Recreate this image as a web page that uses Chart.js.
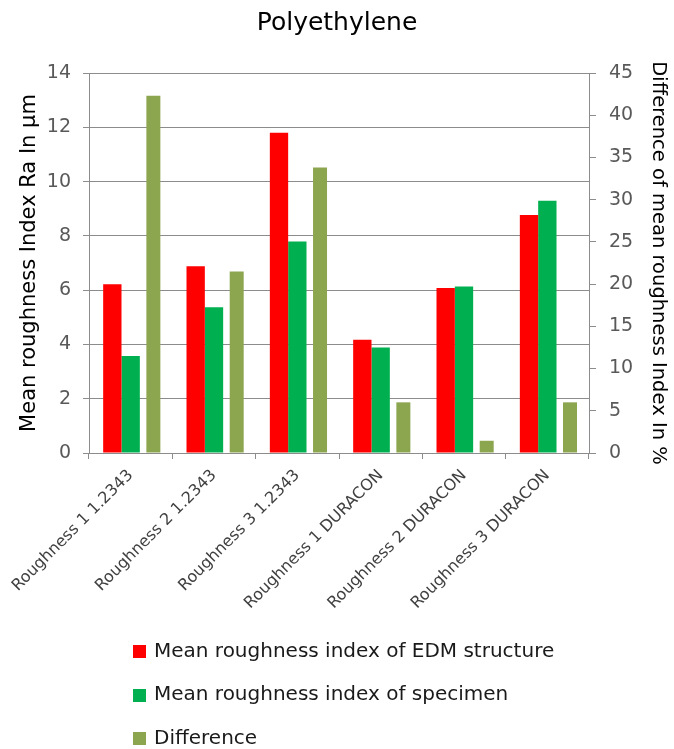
<!DOCTYPE html>
<html>
<head>
<meta charset="utf-8">
<title>Polyethylene</title>
<script src="https://cdn.jsdelivr.net/npm/chart.js@4/dist/chart.umd.min.js"></script>
<style>
  html, body { margin: 0; padding: 0; background: #ffffff; }
  #chart { display: block; }
</style>
</head>
<body>
<canvas id="chart" width="674" height="749"></canvas>
<script>
// Categories (surface roughness of the mould insert)
const categories = [
  'Roughness 1 1.2343',
  'Roughness 2 1.2343',
  'Roughness 3 1.2343',
  'Roughness 1 DURACON',
  'Roughness 2 DURACON',
  'Roughness 3 DURACON'
];

// Mean roughness Ra in µm (left axis)
const edmStructure = [6.22, 6.88, 11.80, 4.17, 6.08, 8.77];
const specimen     = [3.57, 5.37, 7.79, 3.89, 6.13, 9.29];

// Difference in % (right axis)
const difference   = [42.3, 21.5, 33.8, 6.0, 1.45, 6.0];

// Axis ranges
const leftTicks  = { min: 0, max: 14, step: 2 };
const rightTicks = { min: 0, max: 45, step: 5 };

const seriesNames = [
  'Mean roughness index of EDM structure',
  'Mean roughness index of specimen',
  'Difference'
];

const FONT = 'DejaVu Sans';
const GRID = '#8c8c8c';

Chart.defaults.font.family = FONT;

// Vertical legend below the axis labels
const columnLegend = {
  id: 'columnLegend',
  afterDraw(chart, args, opts) {
    const ctx = chart.ctx;
    ctx.save();
    ctx.font = opts.size + 'px "' + FONT + '"';
    ctx.textBaseline = 'middle';
    ctx.textAlign = 'left';
    chart.data.datasets.forEach((ds, i) => {
      const y = opts.top + i * opts.rowGap;
      ctx.fillStyle = ds.backgroundColor;
      ctx.fillRect(opts.left, Math.round(y - opts.box / 2), opts.box, opts.box);
      ctx.fillStyle = opts.color;
      ctx.fillText(ds.label, opts.left + opts.box + opts.gap, y);
    });
    ctx.restore();
  }
};

new Chart(document.getElementById('chart'), {
  type: 'bar',
  data: {
    labels: categories,
    datasets: [
      {
        label: seriesNames[0],
        data: edmStructure,
        backgroundColor: '#ff0000',
        yAxisID: 'y',
        categoryPercentage: 0.66,
        barPercentage: 1.0
      },
      {
        label: seriesNames[1],
        data: specimen,
        backgroundColor: '#00b050',
        yAxisID: 'y',
        categoryPercentage: 0.66,
        barPercentage: 1.0
      },
      {
        label: seriesNames[2],
        data: difference,
        backgroundColor: '#8ca650',
        yAxisID: 'y1',
        categoryPercentage: 0.817,
        barPercentage: 0.617
      }
    ]
  },
  options: {
    responsive: false,
    animation: false,
    devicePixelRatio: 1,
    layout: { padding: { left: 0, right: 0, top: 0, bottom: 106 } },
    plugins: {
      legend: { display: false },
      tooltip: { enabled: false },
      title: {
        display: true,
        text: 'Polyethylene',
        color: '#000000',
        font: { size: 25, weight: 'normal' },
        padding: { top: 8, bottom: 35 }
      },
      columnLegend: {
        left: 133, top: 651.5, rowGap: 43.5, box: 13, gap: 8,
        size: 20, color: '#1a1a1a'
      }
    },
    scales: {
      x: {
        type: 'category',
        afterFit(scale) {
          // long rotated labels may run past the plot edges
          scale.height = 190;
          scale.paddingLeft = 0;
          scale.paddingRight = 0;
        },
        grid: {
          display: true,
          drawOnChartArea: false,
          drawTicks: true,
          tickLength: 6,
          color: GRID,
          offset: true
        },
        border: { display: true, color: GRID, width: 1 },
        ticks: {
          minRotation: 45,
          maxRotation: 45,
          autoSkip: false,
          padding: 7,
          color: '#404040',
          font: { size: 16 }
        }
      },
      y: {
        position: 'left',
        min: leftTicks.min,
        max: leftTicks.max,
        afterFit(scale) { scale.width = 89; },
        ticks: {
          stepSize: leftTicks.step,
          padding: 12,
          color: '#595959',
          font: { size: 19 }
        },
        grid: {
          color: GRID,
          lineWidth: 1,
          drawTicks: true,
          tickLength: 6
        },
        border: { display: true, color: GRID, width: 1 },
        title: {
          display: true,
          text: 'Mean roughness Index Ra In µm',
          color: '#000000',
          font: { size: 21 },
          padding: { top: 17, bottom: 0 }
        }
      },
      y1: {
        position: 'right',
        min: rightTicks.min,
        max: rightTicks.max,
        afterFit(scale) { scale.width = 85; },
        ticks: {
          stepSize: rightTicks.step,
          padding: 13,
          color: '#595959',
          font: { size: 19 }
        },
        grid: {
          drawOnChartArea: false,
          color: GRID,
          drawTicks: true,
          tickLength: 7
        },
        border: { display: true, color: GRID, width: 1 },
        title: {
          display: true,
          text: 'Difference of mean roughness Index In %',
          color: '#000000',
          font: { size: 19.5 },
          padding: { top: 4, bottom: 0 }
        }
      }
    }
  },
  plugins: [columnLegend]
});
</script>
</body>
</html>
